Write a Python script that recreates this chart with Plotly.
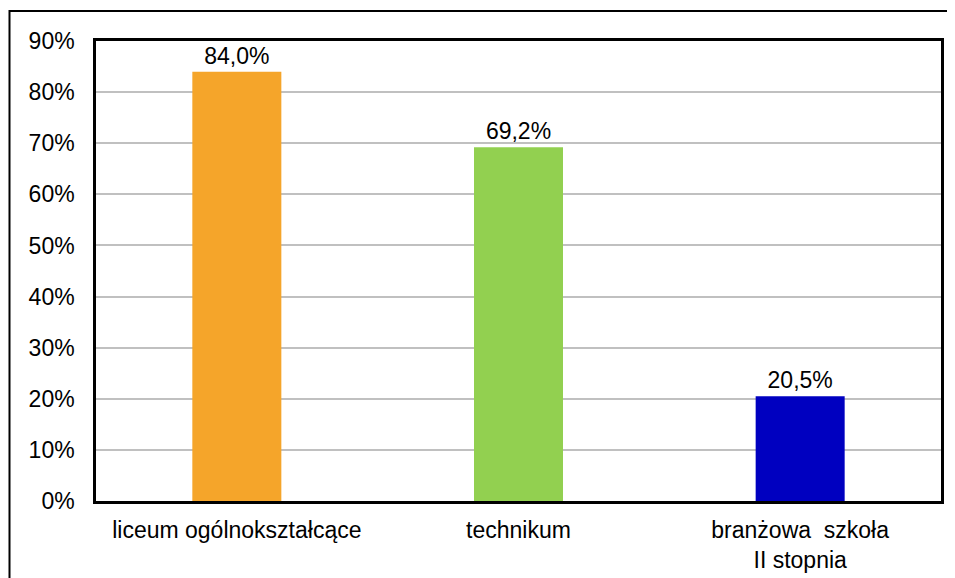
import plotly.graph_objects as go

categories = ["liceum ogólnokształcące", "technikum", "branżowa\u00a0\u00a0szkoła<br>II stopnia"]
values = [84.0, 69.2, 20.5]
colors = ["#F5A52A", "#92D050", "#0000C0"]
labels = [f"{v:.1f}%".replace(".", ",") for v in values]

# page body has an 8px margin, so the figure starts at (8, 8)
W, H = 947, 570
L, T = 88, 33
R = W - (941 - 8)
B = H - (501 - 8)
pw, ph = W - L - R, H - T - B

fig = go.Figure(go.Bar(
    x=categories, y=values, marker=dict(color=colors, line=dict(width=0)),
    text=labels, textposition="outside", cliponaxis=False, constraintext="none",
    textfont=dict(family="Liberation Sans, Arial", size=23, color="#000000"),
))

def px_x(x):
    return (x - L) / pw

def px_y(y):
    return (H - B - y) / ph

fig.update_layout(
    width=W, height=H, margin=dict(l=L, r=R, t=T, b=B),
    paper_bgcolor="white", plot_bgcolor="white",
    bargap=0.684, showlegend=False,
    font=dict(family="Liberation Sans, Arial", size=23, color="#000000"),
    shapes=[dict(type="rect", xref="paper", yref="paper",
                 x0=px_x(1.5), x1=px_x(990), y0=px_y(600), y1=px_y(3),
                 line=dict(color="black", width=2), layer="below")],
)
fig.update_yaxes(range=[0, 90], dtick=10, ticksuffix="%", showgrid=True,
                 gridcolor="#C0C0C0", gridwidth=2, zeroline=False, automargin=False,
                 showline=True, linecolor="black", linewidth=2.5, mirror=True,
                 ticks="outside", ticklen=14, tickcolor="rgba(0,0,0,0)",
                 tickfont=dict(size=23))
fig.update_xaxes(showline=True, linecolor="black", linewidth=2.5, mirror=True,
                 automargin=False,
                 ticks="outside", ticklen=7, tickcolor="rgba(0,0,0,0)",
                 tickfont=dict(size=23), tickangle=0)

fig.write_html("out.html")
